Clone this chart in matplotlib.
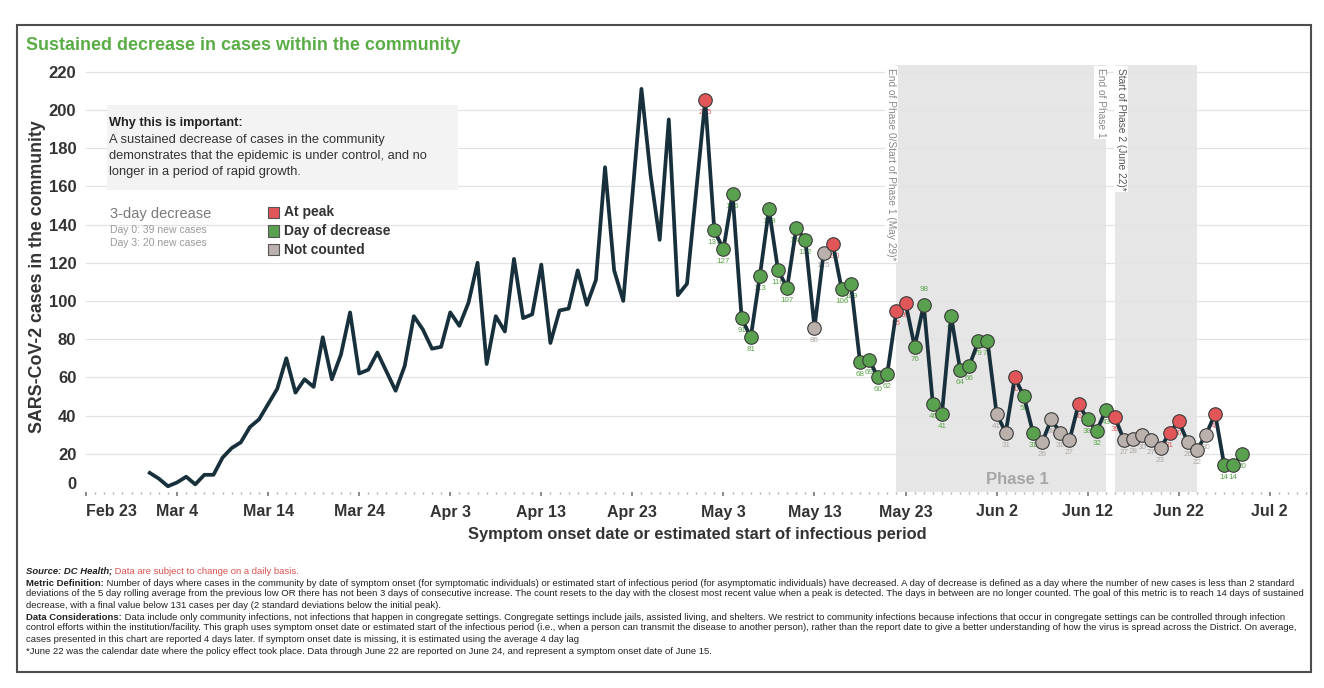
import numpy as np, pandas as pd
import matplotlib as mpl
mpl.use("Agg")
import matplotlib.pyplot as plt
import matplotlib.dates as mdates
from matplotlib.patches import Rectangle

W, H = 1324, 688
plt.rcParams["font.family"] = ["Liberation Sans", "DejaVu Sans"]

# ---- data ----
first_day = "2020-03-01"
cases = [10, 7, 3, 5, 8, 4, 9, 9, 18, 23, 26, 34, 38, 46, 54, 70, 52, 59, 55, 81,
         59, 72, 94, 62, 64, 73, 63, 53, 66, 92, 85,                      # Mar
         75, 76, 94, 87, 99, 120, 67, 92, 84, 122, 91, 93, 119, 78, 95, 96,
         116, 98, 111, 170, 116, 100, 155, 211, 166, 132, 195, 103, 109, 157,  # Apr
         205, 137, 127, 156, 91, 81, 113, 148, 116, 107, 138, 132, 86, 125,
         130, 106, 109, 68, 69, 60, 62, 95, 99, 76, 98, 46, 41, 92, 64, 66, 79,  # May
         79, 41, 31, 60, 50, 31, 26, 38, 31, 27, 46, 38, 32, 43, 39, 27, 28,
         30, 27, 23, 31, 37, 26, 22, 30, 41, 14, 14, 20]                    # Jun
marked_from = "2020-05-01"
# P = at peak, D = day of decrease, N = not counted
status = ["P", "D", "D", "D", "D", "D", "D", "D", "D", "D", "D", "D", "N", "N",
          "P", "D", "D", "D", "D", "D", "D", "P", "P", "D", "D", "D", "D", "D",
          "D", "D", "D",                                                    # May
          "D", "N", "N", "P", "D", "D", "N", "N", "N", "N", "P", "D", "D", "D",
          "P", "N", "N", "N", "N", "N", "P", "P", "N", "N", "N", "P", "D", "D", "D"]  # Jun
phase_spans = [("2020-05-22", "2020-06-14"), ("2020-06-15", "2020-06-24")]
phase_notes = [("2020-05-22", "End of Phase 0/Start of Phase 1 (May 29)*", -5, "#8a8a8a"),
               ("2020-06-14", "End of Phase 1", -5, "#8a8a8a"),
               ("2020-06-15", "Start of Phase 2 (June 22)*", 6, "#555555")]
y_ticks = [0, 20, 40, 60, 80, 100, 120, 140, 160, 180, 200, 220]

dates = pd.date_range(first_day, periods=len(cases), freq="D")
mdates_all = mdates.date2num(dates)

MARK = {"P": "#e15759", "D": "#59a14f", "N": "#bab0ac"}
LAB = {"P": "#e15759", "D": "#5aa64a", "N": "#b0a8a4"}
LINE = "#17303b"


def fx(x): return x / W
def fy(y): return 1 - y / H


fig = plt.figure(figsize=(W / 100, H / 100), dpi=100)
ax = fig.add_axes([fx(86), fy(492), fx(1310) - fx(86), fy(65) - fy(492)])

for a, b in phase_spans:
    ax.axvspan(mdates.date2num(pd.Timestamp(a)), mdates.date2num(pd.Timestamp(b)),
               color="#e6e6e6", lw=0, zorder=0)

ax.plot(mdates_all, cases, color=LINE, lw=2.7, solid_joinstyle="round", zorder=2)

m0 = dates.get_loc(pd.Timestamp(marked_from))
xs, ys = mdates_all[m0:], cases[m0:]
for code in "NDP":
    sel = [i for i, s in enumerate(status) if s == code]
    ax.scatter([xs[i] for i in sel], [ys[i] for i in sel], s=95, color=MARK[code],
               edgecolor="#3a3a3a", lw=0.8, zorder=3)
for i, (x, v, s) in enumerate(zip(xs, ys, status)):
    above = dates[m0 + i] == pd.Timestamp("2020-05-25")
    ax.annotate(str(v), (x, v), xytext=(0, 11 if above else -9), textcoords="offset points",
                ha="center", va="center", fontsize=5.8, color=LAB[s], zorder=1.9)

ax.set_ylim(0, 223.5)
ax.set_xlim(mdates.date2num(pd.Timestamp("2020-02-23")), mdates.date2num(pd.Timestamp("2020-07-06 10:00")))
ax.set_yticks(y_ticks)
ax.set_axisbelow(True)
ax.yaxis.grid(True, color="#e3e3e3", lw=0.9)
ax.get_ygridlines()[0].set_visible(False)
for sp in ax.spines.values():
    sp.set_visible(False)

ax.xaxis.set_major_locator(mpl.ticker.FixedLocator(
    mdates.date2num(pd.date_range("2020-02-23", "2020-07-06", freq="10D"))))
ax.xaxis.set_minor_locator(mpl.ticker.FixedLocator(
    mdates.date2num(pd.date_range("2020-02-23", "2020-07-06", freq="D"))))
ax.xaxis.set_major_formatter(mdates.DateFormatter("%b %-d"))
ax.tick_params(axis="x", which="major", length=3, width=1.2, color="#777", pad=6,
               labelsize=11.5, labelcolor="#333")
ax.tick_params(axis="x", which="minor", length=1.5, width=1, color="#aaa")
ax.tick_params(axis="y", length=0, pad=7, labelsize=12, labelcolor="#333")
for t in ax.get_xticklabels() + ax.get_yticklabels():
    t.set_fontweight("bold")
ax.get_xticklabels()[0].set_ha("left")
ax.get_yticklabels()[0].set_va("bottom")

# phase annotations
for d, txt, dx, col in phase_notes:
    ax.annotate(txt, xy=(mdates.date2num(pd.Timestamp(d)), 1), xycoords=("data", "axes fraction"),
                xytext=(dx, -3), textcoords="offset pixels", rotation=270, ha="center", va="top",
                fontsize=7.3, color=col, zorder=5,
                bbox=dict(fc="white", ec="none", pad=1.2))
fig.text(fx(1017), fy(480), "Phase 1", fontsize=12, fontweight="bold", color="#a6a6a6",
         ha="center", va="center")

# frame + title + axis labels
fig.add_artist(Rectangle((fx(17), fy(672)), fx(1311) - fx(17), fy(25) - fy(672),
                         transform=fig.transFigure, fill=False, ec="#4d4d4d", lw=1.5))
fig.text(fx(26), fy(45), "Sustained decrease in cases within the community", fontsize=12.9,
         fontweight="bold", color="#5aad45", va="center")
fig.text(fx(38), fy(277), "SARS-CoV-2 cases in the community", rotation=90, fontsize=12.8,
         fontweight="bold", color="#333", ha="center", va="center")
fig.text(fx(697), fy(535), "Symptom onset date or estimated start of infectious period",
         fontsize=11.8, fontweight="bold", color="#333", ha="center", va="center")

# info box
fig.add_artist(Rectangle((fx(107), fy(190)), fx(458) - fx(107), fy(105) - fy(190),
                         transform=fig.transFigure, fc="#f3f3f3", ec="none"))
fig.text(fx(109), fy(123), "Why this is important:", fontsize=9.2, fontweight="bold", color="#222",
         va="center")
for k, line in enumerate(["A sustained decrease of cases in the community",
                          "demonstrates that the epidemic is under control, and no",
                          "longer in a period of rapid growth."]):
    fig.text(fx(109), fy(140 + 16 * k), line, fontsize=9.3, color="#333", va="center")

# legend
fig.text(fx(110), fy(214), "3-day decrease", fontsize=10.5, color="#7a7a7a", va="center")
fig.text(fx(110), fy(230), "Day 0: 39 new cases", fontsize=7.5, color="#999", va="center")
fig.text(fx(110), fy(243), "Day 3: 20 new cases", fontsize=7.5, color="#999", va="center")
for k, (code, lab) in enumerate([("P", "At peak"), ("D", "Day of decrease"), ("N", "Not counted")]):
    yc = 212 + 19 * k
    fig.add_artist(Rectangle((fx(268), fy(yc + 5.5)), fx(11), fy(0) - fy(11),
                             transform=fig.transFigure, fc=MARK[code], ec="#555", lw=0.8))
    fig.text(fx(284), fy(yc), lab, fontsize=10, fontweight="bold", color="#333", va="center")

# footer
fs = 6.8
ftr = [
    [("Source: DC Health;", "bold", "italic", "#222"), (" Data are subject to change on a daily basis.", "normal", "normal", "#d9534f")],
    [("Metric Definition:", "bold", "normal", "#222"), (" Number of days where cases in the community by date of symptom onset (for symptomatic individuals) or estimated start of infectious period (for asymptomatic individuals) have decreased. A day of decrease is defined as a day where the number of new cases is less than 2 standard", "normal", "normal", "#222")],
    [("deviations of the 5 day rolling average from the previous low OR there has not been 3 days of consecutive increase. The count resets to the day with the closest most recent value when a peak is detected. The days in between are no longer counted. The goal of this metric is to reach 14 days of sustained", "normal", "normal", "#222")],
    [("decrease, with a final value below 131 cases per day (2 standard deviations below the initial peak).", "normal", "normal", "#222")],
    [("Data Considerations:", "bold", "normal", "#222"), (" Data include only community infections, not infections that happen in congregate settings. Congregate settings include jails, assisted living, and shelters. We restrict to community infections because infections that occur in congregate settings can be controlled through infection", "normal", "normal", "#222")],
    [("control efforts within the institution/facility. This graph uses symptom onset date or estimated start of the infectious period (i.e., when a person can transmit the disease to another person), rather than the report date to give a better understanding of how the virus is spread across the District. On average,", "normal", "normal", "#222")],
    [("cases presented in this chart are reported 4 days later. If symptom onset date is missing, it is estimated using the average 4 day lag", "normal", "normal", "#222")],
    [("*June 22 was the calendar date where the policy effect took place. Data through June 22 are reported on June 24, and represent a symptom onset date of June 15.", "normal", "normal", "#222")],
]
for yc, segs in zip([571, 583, 594, 605, 617, 628, 639, 651], ftr):
    prev = None
    for txt, wt, st, col in segs:
        kw = dict(fontsize=fs, fontweight=wt, fontstyle=st, color=col)
        if prev is None:
            prev = fig.text(fx(26), fy(yc), txt, va="center", ha="left", **kw)
        else:
            prev = ax.annotate(txt, xy=(1, 0.5), xycoords=prev, va="center", ha="left",
                               annotation_clip=False, **kw)

fig.savefig("out.png", dpi=100)
